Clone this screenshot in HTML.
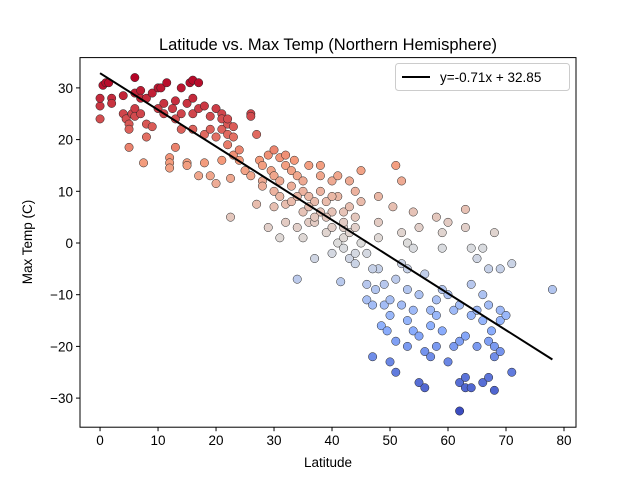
<!DOCTYPE html>
<html><head><meta charset="utf-8"><style>
body{margin:0;background:#fff;}
svg{display:block;font-family:"Liberation Sans","DejaVu Sans",sans-serif;}
</style></head><body>
<svg id="chart" width="640" height="480">
<rect width="640" height="480" fill="#fff"/>
<text x="328" y="50" font-size="16.5" text-anchor="middle">Latitude vs. Max Temp (Northern Hemisphere)</text>
<text x="328" y="467" font-size="13.5" text-anchor="middle">Latitude</text>
<text transform="translate(32,242) rotate(-90)" font-size="13.5" text-anchor="middle">Max Temp (C)</text>
<g id="xticks"></g>
<g id="yticks"></g>
<g id="points"></g>
<g id="reg"></g>
<rect x="80" y="57.6" width="496" height="369.6" fill="none" stroke="#000" stroke-width="1"/>
<g>
<rect x="395.5" y="63.5" width="174" height="27" rx="3" fill="#fff" stroke="#ccc"/>
<line x1="402" y1="77" x2="430" y2="77" stroke="#000" stroke-width="2"/>
<text x="440" y="82" font-size="13.5">y=-0.71x + 32.85</text>
</g>
</svg>
<script>
const xTicks=[0,10,20,30,40,50,60,70,80];
const yTicks=[-30,-20,-10,0,10,20,30];
const slope=-0.71, intercept=32.85;
const lats=[0,0,0,0.5,1,1.5,2,2,4,4,4.5,5,5,5,5.5,6,6,6,6,7,7,7,7.5,8,8,8,9,9,10,10,10.5,11,11,11.5,12,12,12,12.5,13,13,13,14,14,14,15,15,15,15.5,16,16,16,16,17,17,17,18,18,18,19,19,19,20,20,20,21,21,21,21,22,22,22,22,22.5,22.5,23,23,23,24,24,25,26,26,26,27,27,27.5,28,28,28,29,29,29.5,30,30,30,30,31,31,31,32,32,32,32,33,33,33.5,34,34,34,35,35,35,35,36,36,36,37,37,37,38,38,38,38,39,39,40,40,40,40,41,41,41,41.5,42,42,42,42,43,43,43,44,44,44,45,45,46,46,47,47,47.5,48,48,48,48,48.5,49,49,49.5,50,50,50,50.5,51,51,51,51,52,52,52,52,53,53,53,53,53,54,54,54,54,55,55,55,55,56,56,56,57,57,57,58,58,58,58,59,59,59,59,60,60,60,61,61,62,62,62,62,63,63,63,63,63,64,64,64,64,65,65,65,66,66,66,66,67,67,67,67,67.5,68,68,68,68,69,69,69,69,70,71,71,78,31,33,34,36,37,39,40,42,43,44,45,46,47,44];
const temps=[24,26.5,28,30.5,31,31,28,27,28.5,25,24,23,22,18.5,25,32,29,26,24.5,29.5,28,25,15.5,28,23,20.5,22.5,29,26,30,30,27,25,31,16.5,15.5,14.5,26,24,18.5,27.5,30,22,25,15.5,15,27,31,31.5,28,25,22,13,26,31,15.5,26.5,21,24.5,13,22,20.5,26,11.5,25,24,16,22,23,21,24,19,12.5,5,20.5,17,22.5,16,18,14,25,24.5,13,7.5,21,16,15,12,11,17,3,14,18,13,10,7,9,16.5,1,4,15,17,7.5,8,14,16,-7,3,13,6,10,12,1,9,15,4,8,-3,4,13,6,10,15,2,8,3,6,12,-2,0,9,13,-7.5,-1,1,3,6,-3,7,12,5,-2,-4,8,14,-8,-11,-12,-22,-9,4,-5,9,1,-16,-8,-12,-17,-11,-14,-23,7,15,-7,-19,-25,-4,-12,12,2,-9,-5,-15,-20,0,-1,6,-13,-17,-10,-27,3,-18,-28,-6,-21,-13,-16,-22,5,-11,-14,-20,2,-9,-17,-1,-10,-23,4,-13,-20,-32.5,-19,-12,-27,-28,-26,-18,6.5,3,-1,-28,-14,-8,-20,-13,-3,-27,-1,-15,-10,-26,-19,-5,-12,-17,-22,-28.5,-20,2,-15,-5,-13,-21,-14,-4,-25,-9,12,11,9,7,5,5,9,4,2,3,0,-2,-5,10];
const NS='http://www.w3.org/2000/svg';
const L=80,R=576,T=57.6,B=427.2,xmin=-3.456,xmax=82.07,ymin=-35.63,ymax=35.86;
const xs=v=>L+(v-xmin)/(xmax-xmin)*(R-L);
const ys=v=>B-(v-ymin)/(ymax-ymin)*(B-T);
function mk(t,a,p){const e=document.createElementNS(NS,t);for(const k in a)e.setAttribute(k,a[k]);p.appendChild(e);return e;}
const xg=document.getElementById('xticks'),yg=document.getElementById('yticks');
xTicks.forEach(v=>{const x=xs(v);
 const l=mk('line',{x1:x,x2:x,y1:B,y2:B+4,stroke:'#000'},xg);
 
 
 const t=mk('text',{x:x,y:B+18,'font-size':13.5,'text-anchor':'middle'},xg);t.textContent=v;
 
 });
yTicks.forEach(v=>{const y=ys(v);
 const l=mk('line',{x1:L-4,x2:L,y1:y,y2:y,stroke:'#000'},yg);
 
 
 const t=mk('text',{x:L-7,y:y+5,'font-size':13.5,'text-anchor':'end'},yg);t.textContent=v<0?'\u2212'+(-v):v;
 
 });
const stops=[[0,[59,76,192]],[0.25,[141,176,254]],[0.5,[221,221,221]],[0.75,[244,154,123]],[1,[180,4,38]]];
function cw(f){f=Math.max(0,Math.min(1,f));for(let i=1;i<stops.length;i++){if(f<=stops[i][0]){const a=stops[i-1],b=stops[i],u=(f-a[0])/(b[0]-a[0]);return 'rgb('+a[1].map((c,j)=>Math.round(c+(b[1][j]-c)*u)).join(',')+')';}}}
const tmin=Math.min(...temps),tmax=Math.max(...temps);
const pg=document.getElementById('points');
lats.forEach((la,i)=>{const c=mk('circle',{cx:xs(la),cy:ys(temps[i]),r:4.2,fill:cw((temps[i]-tmin)/(tmax-tmin)),stroke:'#222','stroke-width':0.5},pg);
 
 });
const x0=Math.min(...lats),x1=Math.max(...lats);
const rl=mk('line',{x1:xs(x0),y1:ys(slope*x0+intercept),x2:xs(x1),y2:ys(slope*x1+intercept),stroke:'#000','stroke-width':2},document.getElementById('reg'));


</script>
</body></html>
